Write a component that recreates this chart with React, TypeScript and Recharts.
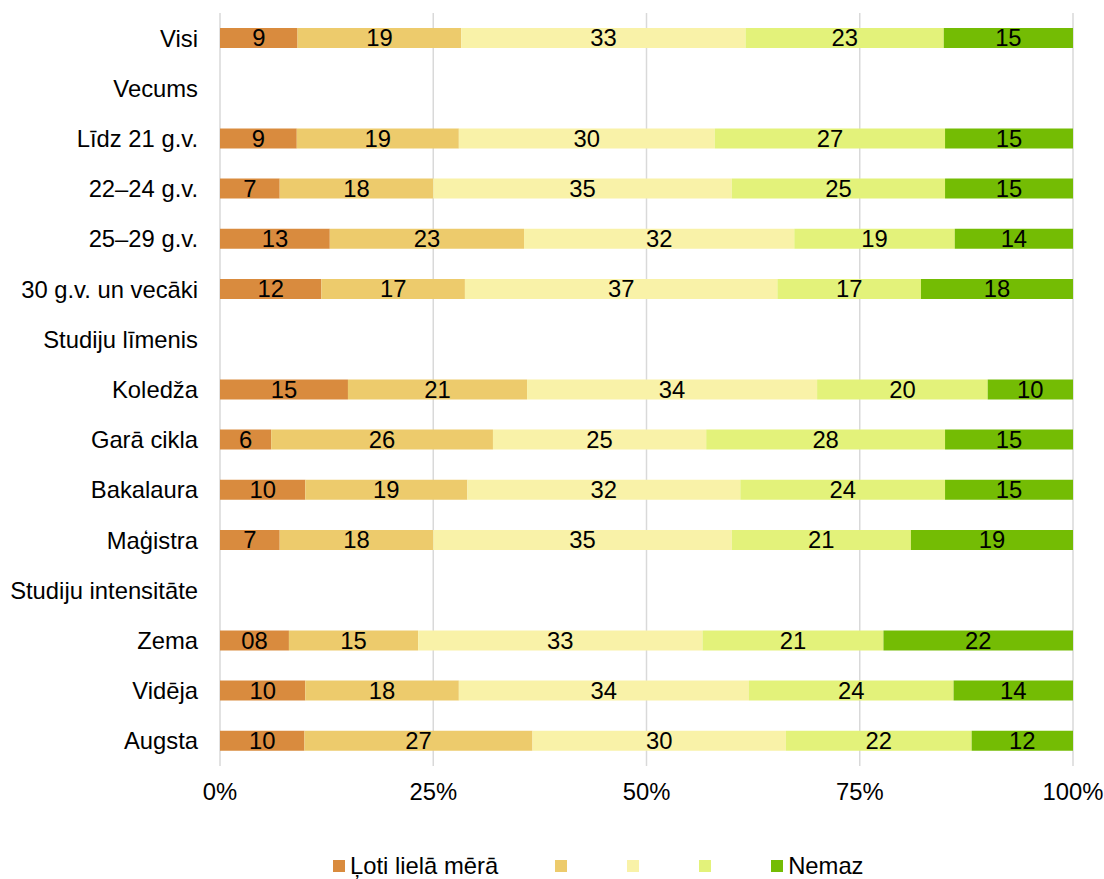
import { BarChart, Bar, XAxis, YAxis, CartesianGrid, LabelList } from 'recharts';

const categories = [
  'Visi',
  'Vecums',
  'Līdz 21 g.v.',
  '22–24 g.v.',
  '25–29 g.v.',
  '30 g.v. un vecāki',
  'Studiju līmenis',
  'Koledža',
  'Garā cikla',
  'Bakalaura',
  'Maģistra',
  'Studiju intensitāte',
  'Zema',
  'Vidēja',
  'Augsta',
];

// null = section heading rows (no bar)
const lotiLiela = [9, null, 9, 7, 13, 12, null, 15, 6, 10, 7, null, 8, 10, 10];
const otra = [19, null, 19, 18, 23, 17, null, 21, 26, 19, 18, null, 15, 18, 27];
const tresa = [33, null, 30, 35, 32, 37, null, 34, 25, 32, 35, null, 33, 34, 30];
const ceturta = [23, null, 27, 25, 19, 17, null, 20, 28, 24, 21, null, 21, 24, 22];
const nemaz = [15, null, 15, 15, 14, 18, null, 10, 15, 15, 19, null, 22, 14, 12];

// label text quirks as printed in the source
const firstLabelText: Record<string, string> = { Zema: '08' };

const xTicks = [0, 0.25, 0.5, 0.75, 1];

const series = [
  { key: 's1', name: 'Ļoti lielā mērā', values: lotiLiela, color: '#D98B3E' },
  { key: 's2', name: '', values: otra, color: '#EDCB6C' },
  { key: 's3', name: '', values: tresa, color: '#F9F2A8' },
  { key: 's4', name: '', values: ceturta, color: '#E3F27A' },
  { key: 's5', name: 'Nemaz', values: nemaz, color: '#74BC04' },
];

const rows = categories.map((name, i) => {
  const row: Record<string, any> = { name };
  series.forEach((s) => {
    const v = s.values[i];
    row[s.key] = v;
    row[s.key + 'Label'] = v == null ? '' : String(v);
  });
  if (firstLabelText[name]) row.s1Label = firstLabelText[name];
  return row;
});

const FONT = '"Liberation Sans", Arial, sans-serif';
const FS = 23.8;

export default function App() {
  return (
    <div style={{ position: 'absolute', left: 0, top: 0, width: 1104, height: 879, fontFamily: FONT, background: '#fff' }}>
      <BarChart
        width={1104}
        height={879}
        data={rows}
        layout="vertical"
        stackOffset="expand"
        margin={{ top: 13, right: 31, bottom: 73, left: 0 }}
      >
        <CartesianGrid horizontal={false} stroke="#D9D9D9" strokeWidth={1.5} />
        <XAxis
          type="number"
          domain={[0, 1]}
          ticks={xTicks}
          tickFormatter={(v: number) => `${Math.round(v * 100)}%`}
          axisLine={false}
          tickLine={false}
          tickMargin={11}
          height={40}
          tick={{ fill: '#000', fontSize: FS, fontFamily: FONT }}
        />
        <YAxis
          type="category"
          dataKey="name"
          width={220}
          axisLine={false}
          tickLine={false}
          tickMargin={16}
          interval={0}
          tick={{ fill: '#000', fontSize: FS, fontFamily: FONT }}
        />
        {series.map((s) => (
          <Bar
            key={s.key}
            dataKey={s.key}
            name={s.name}
            stackId="a"
            fill={s.color}
            barSize={20}
            isAnimationActive={false}
          >
            <LabelList
              dataKey={s.key + 'Label'}
              position="center"
              fill="#000"
              fontSize={FS}
              fontFamily={FONT}
            />
          </Bar>
        ))}
      </BarChart>
      <div
        style={{
          position: 'absolute',
          left: 333,
          top: 853,
          display: 'flex',
          alignItems: 'center',
          fontSize: FS,
          lineHeight: '26px',
          color: '#000',
        }}
      >
        {series.map((s) => (
          <div
            key={s.key}
            style={{
              display: 'flex',
              alignItems: 'center',
              width: s.name ? undefined : 72,
              paddingRight: s.name ? 57 : 0,
            }}
          >
            <span style={{ display: 'inline-block', width: 12, height: 12, background: s.color, marginRight: 5 }} />
            <span>{s.name}</span>
          </div>
        ))}
      </div>
    </div>
  );
}
